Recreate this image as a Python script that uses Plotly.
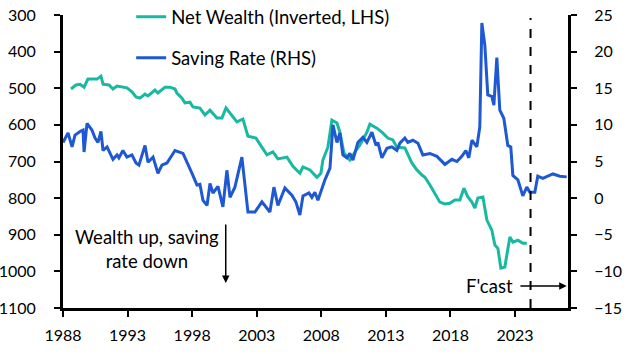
import plotly.graph_objects as go

# Net wealth (% of income, plotted inverted on LHS)
wealth_year = [1988.62, 1989.01, 1989.32, 1989.63, 1989.93, 1990.32, 1990.63, 1990.94, 1991.10, 1991.56,
               1991.87, 1992.18, 1992.57, 1992.95, 1993.34, 1993.65, 1993.96, 1994.35, 1994.58, 1995.12,
               1995.35, 1995.90, 1996.28, 1996.67, 1996.82, 1997.21, 1997.44, 1997.83, 1998.06, 1998.60,
               1998.99, 1999.38, 1999.92, 2000.31, 2000.62, 2001.01, 2001.47, 2001.93, 2002.32, 2002.94,
               2003.40, 2003.79, 2004.25, 2004.64, 2005.34, 2005.80, 2006.34, 2006.58, 2007.12, 2007.35,
               2007.66, 2007.97, 2008.12, 2008.51, 2008.82, 2009.21, 2009.44, 2009.75, 2010.21, 2010.60,
               2010.99, 2011.53, 2011.76, 2012.30, 2012.69, 2013.15, 2013.54, 2013.85, 2014.47, 2015.01,
               2015.40, 2015.79, 2016.02, 2016.41, 2016.79, 2017.18, 2017.57, 2017.95, 2018.34, 2018.73,
               2019.04, 2019.35, 2019.66, 2019.89, 2020.12, 2020.51, 2020.82, 2021.20, 2021.44, 2021.67,
               2021.90, 2022.21, 2022.60, 2022.83, 2023.22, 2023.60, 2023.91]
wealth_val = [502, 491, 489, 497, 475, 475, 475, 467, 489, 491,
              502, 494, 497, 499, 510, 524, 527, 516, 521, 505,
              513, 497, 497, 502, 513, 527, 540, 538, 551, 554,
              573, 560, 581, 581, 554, 573, 592, 584, 631, 636,
              661, 682, 674, 693, 688, 713, 732, 715, 723, 732,
              743, 732, 696, 661, 587, 595, 620, 677, 696, 674,
              655, 620, 598, 609, 620, 636, 641, 661, 663, 704,
              723, 737, 743, 764, 786, 811, 816, 814, 805, 805,
              773, 797, 811, 827, 800, 797, 860, 887, 928, 937,
              991, 988, 906, 920, 915, 923, 923]

# Household saving rate (%, RHS), incl. forecast
saving_year = [1988.00, 1988.39, 1988.70, 1988.93, 1989.32, 1989.55, 1989.63, 1989.86, 1990.24, 1990.48,
               1990.71, 1990.94, 1991.10, 1991.41, 1991.87, 1992.18, 1992.33, 1992.64, 1992.95, 1993.34,
               1993.65, 1993.88, 1994.35, 1994.58, 1994.97, 1995.35, 1995.66, 1996.05, 1996.67, 1997.29,
               1997.98, 1998.37, 1998.60, 1998.84, 1999.15, 1999.38, 1999.61, 2000.00, 2000.38, 2000.69,
               2000.93, 2001.31, 2001.85, 2002.32, 2002.86, 2003.40, 2004.02, 2004.33, 2004.64, 2005.18,
               2005.72, 2006.03, 2006.34, 2006.58, 2007.04, 2007.27, 2007.50, 2007.74, 2008.28, 2008.67,
               2008.90, 2009.21, 2009.44, 2009.67, 2009.98, 2010.21, 2010.45, 2010.83, 2011.22, 2011.53,
               2011.92, 2012.23, 2012.38, 2012.69, 2013.08, 2013.46, 2013.85, 2014.08, 2014.47, 2014.70,
               2015.09, 2015.48, 2015.86, 2016.41, 2016.95, 2017.57, 2018.11, 2018.50, 2018.88, 2019.19,
               2019.42, 2019.66, 2020.04, 2020.27, 2020.43, 2020.66, 2020.89, 2021.20, 2021.36, 2021.59,
               2021.82, 2022.13, 2022.44, 2022.67, 2022.83, 2023.22, 2023.60, 2023.91, 2024.15, 2024.53,
               2024.76, 2025.15, 2025.93, 2026.47, 2027.00]
saving_val = [7.6, 8.9, 7.0, 8.6, 9.1, 9.3, 6.3, 10.2, 9.3, 8.2,
              7.6, 9.1, 6.5, 7.0, 5.3, 5.9, 5.5, 6.5, 5.6, 5.9,
              4.8, 4.5, 7.2, 4.9, 5.6, 3.4, 4.5, 4.8, 6.5, 6.1,
              3.4, 1.8, 1.9, -0.3, -1.0, 2.0, 0.7, 1.6, -1.2, 3.8,
              0.1, 1.5, 5.6, -1.9, -1.9, -0.5, -1.9, 1.5, -1.0, 1.4,
              0.4, -0.5, -2.3, 0.3, 0.7, 0.1, 0.8, -0.3, 2.5, 4.1,
              10.0, 7.6, 8.9, 5.9, 5.5, 6.1, 5.2, 7.6, 8.3, 7.6,
              9.0, 7.2, 7.6, 5.5, 6.8, 7.0, 6.5, 7.5, 8.2, 7.6,
              7.9, 7.5, 5.9, 6.1, 5.7, 4.6, 5.3, 5.0, 5.7, 6.5,
              5.5, 7.9, 7.0, 9.7, 23.9, 20.9, 14.1, 13.9, 12.7, 19.2,
              12.0, 10.9, 7.2, 7.0, 3.1, 2.5, 0.3, 1.5, 0.8, 0.8,
              3.0, 2.7, 3.3, 3.0, 2.9]

x_ticks = [1988, 1993, 1998, 2003, 2008, 2013, 2018, 2023]
forecast_start = 2024.2

TEAL = "#19B9A1"
BLUE = "#1E58D2"
FONT = "Lato"
TEXT_SIZE = 18.5
TICK_SIZE = 16

fig = go.Figure()
fig.add_trace(go.Scatter(x=wealth_year, y=wealth_val, mode="lines", name="Net Wealth (Inverted, LHS)",
                         line=dict(color=TEAL, width=3), legendgroup="a", yaxis="y"))
fig.add_trace(go.Scatter(x=saving_year, y=saving_val, mode="lines", name="Saving Rate (RHS)",
                         line=dict(color=BLUE, width=3), legendgroup="b", yaxis="y2"))

axis_common = dict(showgrid=False, zeroline=False, showline=True, linecolor="black", linewidth=3,
                   ticks="outside", tickcolor="black", tickwidth=2, ticklen=6, automargin=False,
                   tickfont=dict(family=FONT, size=TICK_SIZE, color="black"))

fig.update_layout(
    width=629, height=354,
    margin=dict(l=63, r=61, t=15, b=46, autoexpand=False),
    paper_bgcolor="white", plot_bgcolor="white",
    font=dict(family=FONT, size=17, color="black"),
    xaxis=dict(range=[1988, 2027.1], tickvals=x_ticks, ticktext=[str(t) for t in x_ticks],
               ticklabelstandoff=5, **axis_common),
    yaxis=dict(range=[1100, 300], tickvals=list(range(300, 1101, 100)), ticklabelstandoff=15,
               **axis_common),
    yaxis2=dict(range=[-15, 25], tickvals=list(range(-15, 26, 5)), overlaying="y", side="right",
                ticklabelstandoff=14, **axis_common),
    showlegend=True,
    legend=dict(x=0.135, y=1.057, xanchor="left", yanchor="top", bgcolor="rgba(0,0,0,0)",
                traceorder="grouped", tracegroupgap=14, font=dict(family=FONT, size=TEXT_SIZE)),
)

fig.add_shape(type="line", x0=forecast_start, x1=forecast_start, xref="x", yref="paper", y0=0, y1=0.99,
              line=dict(color="black", width=2, dash="dash"))

fig.add_annotation(text="Wealth up, saving<br>rate down", x=1994.54, y=940, xref="x", yref="y",
                   showarrow=False, font=dict(family=FONT, size=TEXT_SIZE), align="center")
fig.add_annotation(x=2000.6, y=1032, ax=2000.6, ay=868, xref="x", yref="y", axref="x", ayref="y",
                   text="", showarrow=True, arrowhead=2, arrowsize=1, arrowwidth=1.5, arrowcolor="black")
fig.add_annotation(text="F'cast", x=2021.05, y=-12, xref="x", yref="y2", showarrow=False,
                   font=dict(family=FONT, size=TEXT_SIZE))
fig.add_annotation(x=2027.0, y=-12, ax=2023.3, ay=-12, xref="x", yref="y2", axref="x", ayref="y2",
                   text="", showarrow=True, arrowhead=2, arrowsize=1, arrowwidth=1.5, arrowcolor="black")

fig.write_html("out.html")
